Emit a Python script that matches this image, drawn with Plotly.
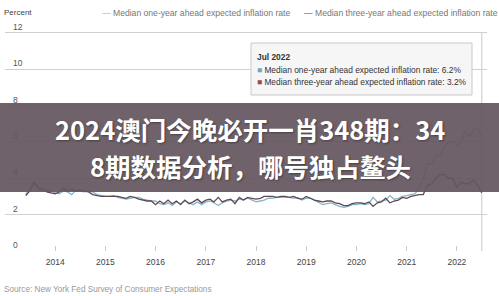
import pandas as pd
import plotly.graph_objects as go

months = pd.date_range("2013-06-01", periods=110, freq="MS")

one_year = [
    3.10, 3.45, 3.80, 3.55, 3.35, 3.30, 3.35,
    3.20, 3.15, 3.30, 3.25, 3.10, 3.35, 3.30, 3.25, 3.30, 3.25, 3.10, 3.05,
    3.00, 3.00, 3.05, 2.95, 2.90, 2.85, 2.90, 2.95, 2.95, 2.85, 2.80, 2.75,
    2.75, 2.60, 2.55, 2.65, 2.50, 2.70, 2.60, 2.75, 2.65, 2.55, 2.70, 2.55,
    2.70, 2.75, 2.65, 2.50, 2.65, 2.75, 2.80, 2.75, 2.85, 2.80, 2.90, 2.80,
    2.70, 2.75, 2.80, 2.90, 2.90, 2.95, 2.95, 2.95, 2.95, 2.90, 2.95, 2.80,
    2.90, 2.90, 2.80, 2.65, 2.55, 2.60, 2.65, 2.55, 2.45, 2.40, 2.45, 2.55,
    2.55, 2.60, 2.55, 2.60, 2.95, 2.70, 2.75, 2.80, 3.05, 2.85, 2.90, 3.00,
    3.05, 3.10, 3.15, 3.40, 4.00, 4.80, 4.80, 5.20, 5.30, 5.70, 6.00, 6.00,
    5.80, 6.00, 6.60, 6.30, 6.60, 6.80, 6.20,
]
three_year = [
    3.05, 3.30, 3.75, 3.40, 3.40, 3.25, 3.20,
    3.15, 3.25, 3.45, 3.30, 3.40, 3.30, 3.35, 3.30, 3.25, 3.10, 3.05, 3.00,
    3.00, 3.00, 3.00, 3.00, 2.95, 2.90, 3.00, 2.95, 2.85, 2.80, 2.75, 2.75,
    2.55, 2.75, 2.60, 2.80, 2.60, 2.75, 2.55, 2.80, 2.60, 2.70, 2.85, 2.65,
    2.80, 2.85, 2.70, 2.95, 2.70, 2.80, 2.85, 2.60, 2.95, 2.80, 2.95, 2.90,
    2.85, 2.90, 3.00, 3.00, 3.00, 2.95, 3.00, 3.00, 2.95, 3.00, 2.90, 2.85,
    3.00, 2.90, 2.80, 2.75, 2.70, 2.75, 2.75, 2.65, 2.60, 2.50, 2.50, 2.60,
    2.65, 2.65, 2.60, 2.70, 2.45, 2.65, 2.70, 2.90, 2.65, 2.75, 2.80, 2.95,
    2.90, 3.00, 3.05, 3.10, 3.10, 3.60, 3.70, 4.00, 4.20, 4.20, 4.00, 4.00,
    3.50, 3.80, 3.70, 3.70, 3.90, 3.60, 3.20,
]

series_names = [
    "Median one-year ahead expected inflation rate",
    "Median three-year ahead expected inflation rate",
]
tick_years = ["2014", "2015", "2016", "2017", "2018", "2019", "2020", "2021", "2022"]
y_ticks = [0, 2, 4, 6, 8, 10, 12]
banner_lines = ["2024澳门今晚必开一肖348期：34", "8期数据分析，哪号独占鳌头"]

c_one = "#86b6cc"
c_three = "#5f4a52"
sq_one = "#6fa6c4"
sq_three = "#9a4a4a"

fig = go.Figure()
fig.add_trace(go.Scatter(x=months, y=one_year, mode="lines", name=series_names[0],
                         line=dict(color=c_one, width=1.3)))
fig.add_trace(go.Scatter(x=months, y=three_year, mode="lines", name=series_names[1],
                         line=dict(color=c_three, width=1.3)))

font_fam = "Liberation Sans, Arial, sans-serif"

# plot area: 18.17 px per unit, value 0 at y=251px
YMAX = 13.2
TOP, BOT, LEFT, RIGHT = 11, 251, 5, 487
PH = BOT - TOP
PW = RIGHT - LEFT

def py(px):
    return (BOT - px) / PH

def pxx(px):
    return (px - LEFT) / PW

fig.update_layout(
    width=499, height=296,
    margin=dict(l=LEFT, r=499 - RIGHT, t=TOP, b=296 - BOT),
    paper_bgcolor="white", plot_bgcolor="white",
    showlegend=False,
    font=dict(family=font_fam, size=8, color="#555"),
    xaxis=dict(
        range=["2013-01-01", "2022-08-08"],
        tickvals=[f"{y}-01-01" for y in tick_years],
        ticktext=tick_years,
        ticks="inside", ticklen=5, tickcolor="#ccc",
        showgrid=False, zeroline=False,
        showline=False, ticklabelstandoff=4,
        tickfont=dict(size=8.5, color="#444"),
    ),
    yaxis=dict(
        range=[0, YMAX],
        tickvals=y_ticks,
        ticklabelposition="inside top",
        ticklabelstandoff=5,
        showgrid=True, gridcolor="#d0d0d0", gridwidth=1,
        zeroline=False, showline=False, ticks="",
        tickfont=dict(size=8.5, color="#555"),
    ),
)

# crosshair at latest month
fig.add_shape(type="line", xref="x", yref="y", x0=months[-1], x1=months[-1],
              y0=0, y1=12, line=dict(color="#c8c8c8", width=1), layer="below")

# title / legend / source
fig.add_annotation(xref="paper", yref="paper", x=pxx(2), y=py(13),
                   xanchor="left", yanchor="middle", showarrow=False,
                   text="Percent", font=dict(size=8, color="#444"))
fig.add_annotation(xref="paper", yref="paper", x=pxx(100), y=py(13),
                   xanchor="left", yanchor="middle", showarrow=False,
                   text=f"<span style='color:{c_one}'>—</span> {series_names[0]}",
                   font=dict(size=8.6, color="#777"))
fig.add_annotation(xref="paper", yref="paper", x=pxx(302), y=py(13),
                   xanchor="left", yanchor="middle", showarrow=False,
                   text=f"<span style='color:{c_three}'>—</span> {series_names[1]}",
                   font=dict(size=8.6, color="#777"))
fig.add_annotation(xref="paper", yref="paper", x=pxx(2), y=py(289),
                   xanchor="left", yanchor="middle", showarrow=False,
                   text="Source: New York Fed Survey of Consumer Expectations",
                   font=dict(size=8.2, color="#999"))

# tooltip box
fig.add_shape(type="rect", xref="paper", yref="paper",
              x0=pxx(251), x1=pxx(472), y0=py(95), y1=py(43),
              fillcolor="#f6f6f6", line=dict(color="#c9c9c9", width=1), layer="above")
label = months[-1].strftime("%b %Y")
tip_lines = [
    f"<b>{label}</b>",
    f"<span style='color:{sq_one}'>■</span> {series_names[0]}: {one_year[-1]:.1f}%",
    f"<span style='color:{sq_three}'>■</span> {series_names[1]}: {three_year[-1]:.1f}%",
]
for txt, ypx in zip(tip_lines, [57, 70, 82]):
    fig.add_annotation(xref="paper", yref="paper", x=pxx(255), y=py(ypx),
                       xanchor="left", yanchor="middle", showarrow=False, align="left",
                       text=txt, font=dict(size=8.4, color="#333"))

# overlay banner
fig.add_shape(type="rect", xref="paper", yref="paper",
              x0=pxx(-5), x1=pxx(505), y0=py(192), y1=py(103),
              fillcolor="rgba(100,86,95,0.93)", line=dict(width=0), layer="above")
for txt, ypx in zip(banner_lines, [128, 166]):
    fig.add_annotation(xref="paper", yref="paper", x=pxx(250), y=py(ypx),
                       xanchor="center", yanchor="middle", showarrow=False,
                       text=f"<b>{txt}</b>", borderpad=0,
                       font=dict(family="Noto Sans CJK SC", size=25.5, color="white",
                                 shadow="1px 1px 2px rgba(0,0,0,0.35)"))

fig.write_html("out.html")
